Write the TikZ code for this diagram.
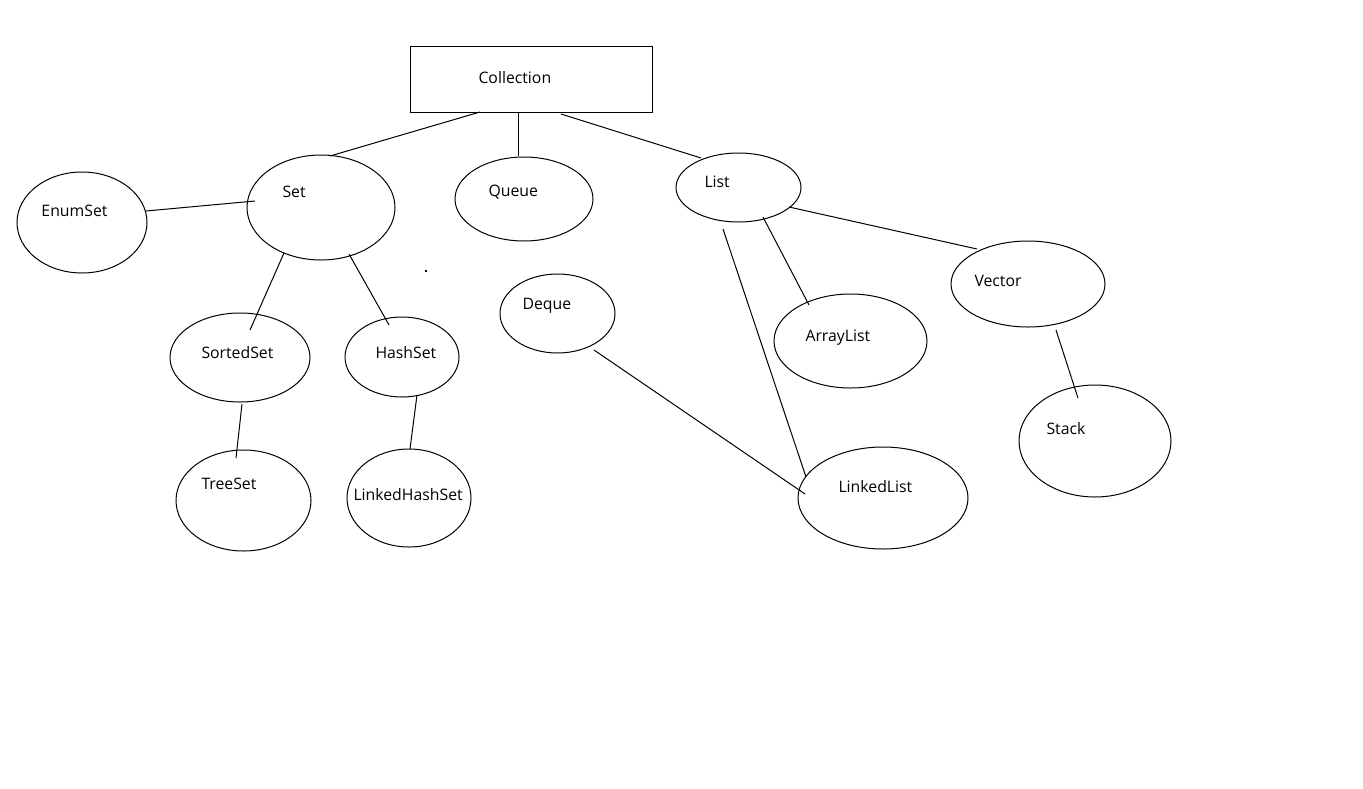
\documentclass[tikz,border=0pt]{standalone}
\usepackage{fontspec}
\setmainfont{Open Sans}
\usetikzlibrary{shapes.geometric}
\begin{document}
\begin{tikzpicture}[x=1pt,y=-1pt,line width=1pt,
  ell/.style={draw,ellipse,inner sep=0pt},
  lbl/.style={anchor=base west,inner sep=0pt,font=\fontsize{15.8}{18}\selectfont},
  conn/.style={draw,line width=1pt}]
\useasboundingbox[fill=white] (0,0) rectangle (1363,788);
% shapes
\node[draw,minimum width=242pt,minimum height=66pt,inner sep=0pt] (coll) at (531,79) {};
\node[ell,minimum width=148pt,minimum height=105pt] (set) at (321,207.5) {};
\node[ell,minimum width=130pt,minimum height=101pt] (enum) at (82,222.5) {};
\node[ell,minimum width=138pt,minimum height=84pt] (queue) at (524,199) {};
\node[ell,minimum width=125pt,minimum height=69pt] (list) at (738.5,187.5) {};
\node[ell,minimum width=154pt,minimum height=86pt] (vector) at (1028,284) {};
\node[ell,minimum width=115pt,minimum height=79pt] (deque) at (557.5,313.5) {};
\node[ell,minimum width=153pt,minimum height=94pt] (alist) at (850.5,341) {};
\node[ell,minimum width=140pt,minimum height=89pt] (sorted) at (240,357.5) {};
\node[ell,minimum width=114pt,minimum height=80pt] (hash) at (402,357) {};
\node[ell,minimum width=135pt,minimum height=101pt] (tree) at (243.5,500.5) {};
\node[ell,minimum width=124pt,minimum height=98pt] (lhash) at (409,498) {};
\node[ell,minimum width=170pt,minimum height=102pt] (llist) at (883,498) {};
\node[ell,minimum width=152pt,minimum height=112pt] (stack) at (1095,441) {};
% labels
\node[lbl] (tcoll) at (478,83) {Collection};
\node[lbl] (tset) at (282,197) {Set};
\node[lbl] (tenum) at (41,216) {EnumSet};
\node[lbl] (tqueue) at (488,196) {Queue};
\node[lbl] (tlist) at (704,187) {List};
\node[lbl] (tvector) at (974,286) {Vector};
\node[lbl] (tdeque) at (522,309) {Deque};
\node[lbl] (talist) at (805,341) {ArrayList};
\node[lbl] (tsorted) at (201,358) {SortedSet};
\node[lbl] (thash) at (375,358) {HashSet};
\node[lbl] (ttree) at (201,489) {TreeSet};
\node[lbl] (tlhash) at (353,500) {LinkedHashSet};
\node[lbl] (tllist) at (838,492) {LinkedList};
\node[lbl] (tstack) at (1046,434) {Stack};
% connector end points
\coordinate (c1) at (480,112); \coordinate (s1) at (330,156);
\coordinate (c2) at (518,112); \coordinate (q1) at (518,156);
\coordinate (c3) at (561,114); \coordinate (l1) at (701,158);
\coordinate (s2) at (255,201); \coordinate (e1) at (146,211);
\coordinate (s3) at (284,253); \coordinate (so1) at (250,330);
\coordinate (s4) at (349,254); \coordinate (h1) at (389,325);
\coordinate (so2) at (242,404); \coordinate (t1) at (236,458);
\coordinate (h2) at (417,395); \coordinate (lh1) at (410,449);
\coordinate (l2) at (789,207); \coordinate (v1) at (977,249);
\coordinate (l3) at (763,217); \coordinate (a1) at (809,305);
\coordinate (l4) at (723,229); \coordinate (ll1) at (806,477);
\coordinate (v2) at (1056,330); \coordinate (st1) at (1078,398);
\coordinate (d1) at (594,350); \coordinate (ll2) at (805,494);
% connectors
\draw[conn] (c1) -- (s1);
\draw[conn] (c2) -- (q1);
\draw[conn] (c3) -- (l1);
\draw[conn] (s2) -- (e1);
\draw[conn] (s3) -- (so1);
\draw[conn] (s4) -- (h1);
\draw[conn] (so2) -- (t1);
\draw[conn] (h2) -- (lh1);
\draw[conn] (l2) -- (v1);
\draw[conn] (l3) -- (a1);
\draw[conn] (l4) -- (ll1);
\draw[conn] (v2) -- (st1);
\draw[conn] (d1) -- (ll2);
% stray dot
\fill (424.5,269.5) rectangle (426.5,271.5);
\end{tikzpicture}
\end{document}
